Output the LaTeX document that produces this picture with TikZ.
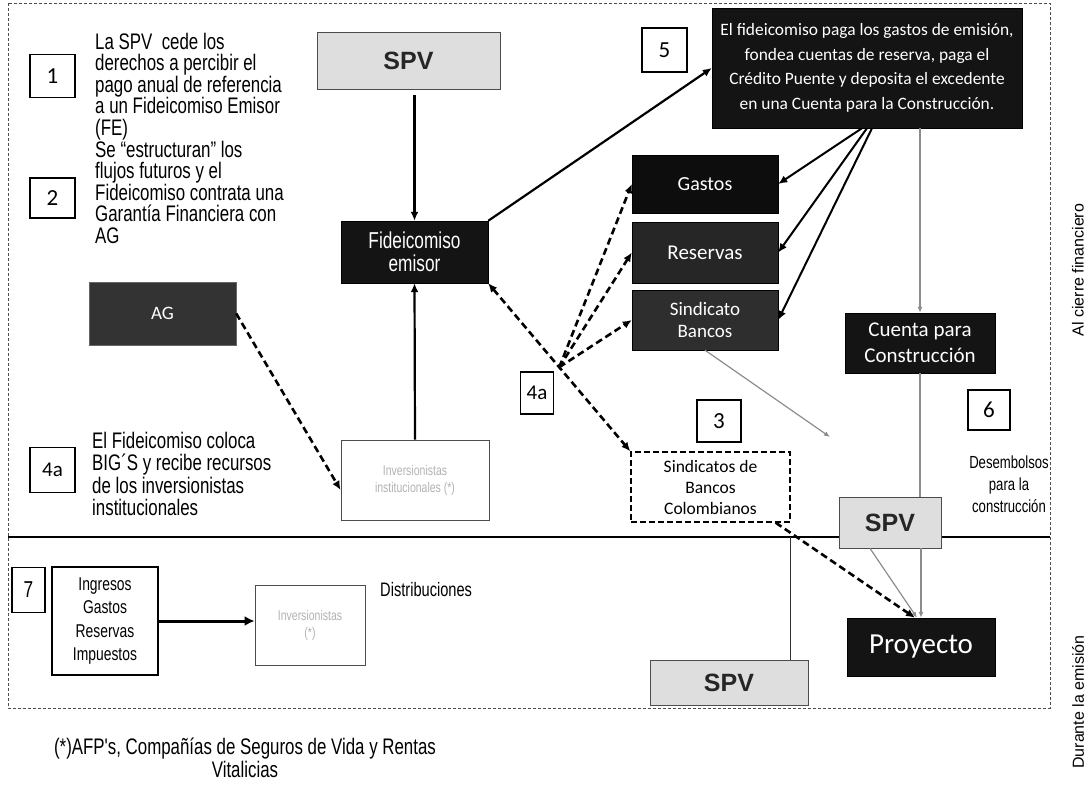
\documentclass[tikz,border=0pt]{standalone}
\usepackage{fontspec}
\setmainfont{Liberation Sans}
\newfontfamily\narfont[FakeStretch=0.75]{Liberation Sans}
\newfontfamily\calfont{Carlito}
\usetikzlibrary{arrows.meta,calc}
\begin{document}
\begin{tikzpicture}[x=1pt,y=-1pt,
  numbox/.style={draw=black,line width=1.1pt,inner sep=0pt,font=\calfont\fontsize{23}{23}\selectfont},
  blk/.style={fill=black!92,draw=black,inner sep=0pt,text=white,align=center},
  txt/.style={inner sep=0pt,anchor=north west,align=left,font=\narfont\fontsize{22.5}{21.6}\selectfont},
  spv/.style={fill=black!13,draw=black!70,line width=0.8pt,inner sep=0pt,font=\bfseries\fontsize{25}{25}\selectfont,text=black!85},
  faint/.style={draw=black!70,line width=0.8pt,fill=white,inner sep=0pt,align=center,text=black!30,font=\narfont\fontsize{14}{17}\selectfont},
  sarrow/.style={line width=2.2pt,-{Latex[length=9pt,width=8pt]}},
  darrow/.style={line width=2.6pt,dash pattern=on 7pt off 4pt,-{Latex[length=9pt,width=8pt]}},
  garrow/.style={black!45,line width=1.2pt,-{Latex[length=6pt,width=5pt,open]}},
  gline/.style={black!45,line width=1.2pt}
]
\useasboundingbox (0,0) rectangle (1089,789);
% frame and separator
\draw[black!70,line width=0.8pt,densely dashed] (8,3) rectangle (1050,708);
\coordinate (sepl) at (8,537);
\coordinate (sepr) at (1050,537);
\draw[line width=1.4pt] (sepl) -- (sepr);

% left texts
\node[numbox,minimum width=45pt,minimum height=43pt] (n1) at (52.5,76) {1};
\node[txt] (t1) at (95,32.6) {La SPV\ \ cede los\\derechos a percibir el\\pago anual de referencia\\a un Fideicomiso Emisor\\(FE)};
\node[numbox,minimum width=45pt,minimum height=40pt] (n2) at (52.5,198) {2};
\node[txt] (t2) at (95,140.6) {Se “estructuran” los\\flujos futuros y el\\Fideicomiso contrata una\\Garantía Financiera con\\AG};
\node[fill=black!80,draw=black!60,inner sep=0pt,minimum width=147pt,minimum height=63pt,text=white,font=\calfont\fontsize{19}{19}\selectfont] (ag) at (162.5,313.5) {AG};
\node[numbox,minimum width=45pt,minimum height=45pt,font=\calfont\fontsize{21}{21}\selectfont] (n4b) at (52.5,470) {4a};
\node[txt,font=\narfont\fontsize{22.5}{22.5}\selectfont] (t4) at (92,431.6) {El Fideicomiso coloca\\BIG´S y recibe recursos\\de los inversionistas\\institucionales};

% centre column
\node[spv,minimum width=183pt,minimum height=57pt] (spvtop) at (408.5,60.5) {SPV};
\node[blk,minimum width=147pt,minimum height=62pt,font=\narfont\fontsize{23}{23}\selectfont] (fid) at (414.5,252) {Fideicomiso\\emisor};
\node[faint,minimum width=148pt,minimum height=80pt] (inv) at (415,480) {Inversionistas\\institucionales (*)};
\node[numbox,minimum width=33pt,minimum height=42pt,font=\calfont\fontsize{21}{21}\selectfont] (n4m) at (537,393) {4a};

% box 5
\node[numbox,minimum width=45pt,minimum height=44pt] (n5) at (664.5,50) {5};
\node[blk,minimum width=310pt,minimum height=120pt,font=\calfont\fontsize{17.4}{24.5}\selectfont] (b5) at (867,68) {El fideicomiso paga los gastos de emisión,\\fondea cuentas de reserva, paga el\\Crédito Puente y deposita el excedente\\en una Cuenta para la Construcción.};

% Gastos / Reservas / Sindicato
\node[blk,fill=black!95,minimum width=146pt,minimum height=58pt,font=\calfont\fontsize{20}{20}\selectfont] (gastos) at (705,184) {Gastos};
\node[blk,fill=black!85,minimum width=146pt,minimum height=61pt,font=\calfont\fontsize{21}{21}\selectfont] (reservas) at (705,252.5) {Reservas};
\node[blk,fill=black!82,minimum width=146pt,minimum height=60pt,font=\calfont\fontsize{19}{22}\selectfont] (sindb) at (705,320) {Sindicato\\Bancos};

% right column
\node[blk,minimum width=150pt,minimum height=60pt,font=\calfont\fontsize{21}{26}\selectfont] (cuenta) at (920,343) {Cuenta para\\Construcción};
\node[numbox,minimum width=44pt,minimum height=42pt] (n3) at (719,421) {3};
\node[draw=black,line width=1.4pt,dash pattern=on 6pt off 3pt,inner sep=0pt,minimum width=159pt,minimum height=70pt,align=center,font=\calfont\fontsize{17.5}{21}\selectfont] (sindcol) at (710.5,487) {Sindicatos de\\Bancos\\Colombianos};
\node[numbox,minimum width=42pt,minimum height=40pt] (n6) at (989,410) {6};
\node[inner sep=0pt,align=center,font=\narfont\fontsize{17.5}{22}\selectfont] (desem) at (1009,484) {Desembolsos\\para la\\construcción};
\node[spv,minimum width=102pt,minimum height=51pt] (spvlow) at (890,522.5) {SPV};
\node[blk,minimum width=148pt,minimum height=58pt,font=\calfont\fontsize{29}{29}\selectfont] (proy) at (921,647) {Proyecto};
\node[spv,minimum width=158pt,minimum height=45pt] (spvbot) at (729,682.5) {SPV};

% bottom left
\node[numbox,minimum width=33pt,minimum height=45pt,font=\narfont\fontsize{23}{23}\selectfont] (n7) at (28.5,590) {7};
\node[draw=black,line width=1.2pt,inner sep=0pt,minimum width=106pt,minimum height=108pt,align=center,font=\narfont\fontsize{18.5}{23.5}\selectfont] (ingresos) at (105,621) {Ingresos\\Gastos\\Reservas\\Impuestos};
\node[faint,minimum width=110pt,minimum height=80pt] (distrib) at (310,625) {Inversionistas\\(*)};
\node[inner sep=0pt,anchor=west,font=\narfont\fontsize{19.5}{19.5}\selectfont] (distl) at (380,590) {Distribuciones};

% footnote and side labels
\node[inner sep=0pt,align=center,font=\narfont\fontsize{22.5}{23}\selectfont] (foot) at (245,758) {(*)AFP's, Compañías de Seguros de Vida y Rentas\\Vitalicias};
\node[rotate=90,inner sep=0pt,font=\fontsize{16}{16}\selectfont] (lab1) at (1078,270) {Al cierre financiero};
\node[rotate=90,inner sep=0pt,font=\fontsize{16}{16}\selectfont] (lab2) at (1078,702) {Durante la emisión};

% connectors
\draw[sarrow,shorten <=6pt] (spvtop.south -| fid.north) -- (fid.north);
\draw[sarrow] (inv.north) -- (fid.south);
\draw[sarrow] (fid.north east) -- (b5.west);
\draw[sarrow,line width=2pt] ([xshift=-5pt]b5.south) -- (gastos.east);
\draw[sarrow,line width=2pt] (b5.south) -- (reservas.east);
\draw[sarrow,line width=2pt] ([xshift=5pt]b5.south) -- (sindb.east);
\draw[garrow] (b5.south -| cuenta.north) -- (cuenta.north);
\draw[gline] (cuenta.south) -- (spvlow.north -| cuenta.south);
\draw[garrow] (spvlow.south -| proy.north) -- (proy.north);
\draw[garrow] ([xshift=-20pt]spvlow.south) -- ([xshift=-4pt]proy.north);
\coordinate (gend) at (830,437);
\draw[garrow] (sindb.south) -- (gend);
\draw[line width=1pt,black!80] (sindcol.south east |- sepl) -- (sindcol.south east |- spvbot.north);

\draw[darrow] (ag.east) -- ([yshift=-10pt]inv.west);
\draw[darrow,{Latex[length=9pt,width=8pt]}-{Latex[length=9pt,width=8pt]}] (fid.south east) -- (sindcol.north west);
\coordinate (fan) at ($(fid.south east)!0.5!(sindcol.north west)$);
\draw[darrow] (fan) -- (gastos.west);
\draw[darrow] (fan) -- (reservas.west);
\draw[darrow] (fan) -- (sindb.west);
\draw[darrow] ([xshift=-15pt]sindcol.south east) -- ([xshift=-6pt]proy.north);
\draw[line width=3pt,-{Latex[length=10pt,width=10pt]}] (ingresos.east) -- (ingresos.east -| distrib.west);
\end{tikzpicture}
\end{document}
